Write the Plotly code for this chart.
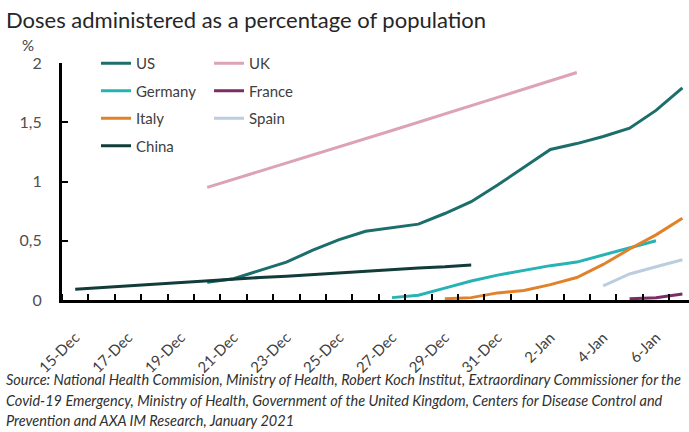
import plotly.graph_objects as go

# ---- data ----
dates = ["15-Dec", "16-Dec", "17-Dec", "18-Dec", "19-Dec", "20-Dec", "21-Dec", "22-Dec",
         "23-Dec", "24-Dec", "25-Dec", "26-Dec", "27-Dec", "28-Dec", "29-Dec", "30-Dec",
         "31-Dec", "1-Jan", "2-Jan", "3-Jan", "4-Jan", "5-Jan", "6-Jan", "7-Jan"]
N = None
us      = [N, N, N, N, N, 0.15, 0.18, 0.25, 0.32, 0.42, 0.51, 0.58, 0.61, 0.64, 0.73, 0.83,
           0.97, 1.12, 1.27, 1.32, 1.38, 1.45, 1.60, 1.79]
uk      = [N, N, N, N, N, 0.95, N, N, N, N, N, N, 1.43, N, N, N, N, N, N, 1.92, N, N, N, N]
germany = [N, N, N, N, N, N, N, N, N, N, N, N, 0.02, 0.04, 0.10, 0.16, 0.21, 0.25, 0.29,
           0.32, 0.38, 0.44, 0.50, N]
france  = [N] * 21 + [0.01, 0.02, 0.05]
italy   = [N] * 14 + [0.01, 0.02, 0.06, 0.08, 0.13, 0.19, 0.30, 0.43, 0.55, 0.69]
spain   = [N] * 20 + [0.12, 0.22, 0.28, 0.34]
china   = [0.09, 0.105, 0.12, 0.13, 0.145, 0.16, 0.175, 0.19, 0.20, 0.215, 0.23, 0.24,
           0.255, 0.27, 0.28, 0.295] + [N] * 8
label_dates = dates[0:23:2]
yticks = [0, 0.5, 1, 1.5, 2]
yticktext = ["0", "0,5", "1", "1,5", "2"]

series = [
    ("US", us, "#1b6e6b", "legend"),
    ("UK", uk, "#dca3b5", "legend2"),
    ("Germany", germany, "#27b2b6", "legend"),
    ("France", france, "#7b2d68", "legend2"),
    ("Italy", italy, "#e0822a", "legend"),
    ("Spain", spain, "#bccde0", "legend2"),
    ("China", china, "#113c3a", "legend"),
]

W, H = 689, 432
L, R, T, B = 62, 0, 63, 132
PW, PH = W - L - R, H - T - B

def px2x(px):
    return (px - L) / PW

def px2y(py):
    return 1 + (T - py) / PH

xidx = list(range(len(dates)))
fig = go.Figure()
for name, vals, col, lg in series:
    fig.add_trace(go.Scatter(
        x=xidx, y=vals, mode="lines", name=name, legend=lg, legendgroup=name,
        connectgaps=True, line=dict(color=col, width=3),
    ))

font_family = "Lato, 'Open Sans', sans-serif"
legend_common = dict(
    orientation="v", bgcolor="rgba(0,0,0,0)", font=dict(size=15, color="#404040", family=font_family),
    tracegroupgap=5, xanchor="left", yanchor="top", itemwidth=30,
)

fig.update_layout(
    width=W, height=H,
    margin=dict(l=L, r=R, t=T, b=B, pad=0),
    paper_bgcolor="white", plot_bgcolor="white",
    font=dict(family=font_family),
    legend=dict(x=px2x(96), y=px2y(47), **legend_common),
    legend2=dict(x=px2x(209), y=px2y(47), **legend_common),
    xaxis=dict(
        range=[-0.5, (PW / 26.4) - 0.5],
        tickmode="array", tickvals=[dates.index(d) for d in label_dates], ticktext=label_dates,
        tickangle=-45, ticks="", ticklabelstandoff=20,
        tickfont=dict(size=15, color="#404040", family=font_family),
        showline=True, linecolor="black", linewidth=3, showgrid=False, zeroline=False,
        minor=dict(tick0=0.5, dtick=1, ticks="inside", ticklen=6, tickwidth=2, tickcolor="black", showgrid=False),
    ),
    yaxis=dict(
        range=[0, 2], tickmode="array", tickvals=yticks, ticktext=yticktext,
        ticks="inside", ticklen=6, tickwidth=2, tickcolor="black", ticklabelstandoff=14,
        tickfont=dict(size=16, color="#505050", family=font_family),
        showline=True, linecolor="black", linewidth=3, showgrid=False, zeroline=False,
    ),
    showlegend=True,
)

ann = [
    dict(text="Doses administered as a percentage of population", x=px2x(4), y=px2y(19),
         font=dict(size=22, color="#262626", family=font_family)),
    dict(text="%", x=px2x(20), y=px2y(45), font=dict(size=15, color="#404040", family=font_family)),
    dict(text="<i>Source: National Health Commision, Ministry of Health, Robert Koch Institut, Extraordinary Commissioner for the</i>",
         x=px2x(4), y=px2y(379), font=dict(size=14.5, color="#303030", family=font_family)),
    dict(text="<i>Covid-19 Emergency, Ministry of Health, Government of the United Kingdom, Centers for Disease Control and</i>",
         x=px2x(4), y=px2y(400), font=dict(size=14.5, color="#303030", family=font_family)),
    dict(text="<i>Prevention and AXA IM Research, January 2021</i>",
         x=px2x(4), y=px2y(420), font=dict(size=14.5, color="#303030", family=font_family)),
]
for a in ann:
    fig.add_annotation(xref="paper", yref="paper", xanchor="left", yanchor="middle",
                       showarrow=False, **a)

fig.write_html("out.html")
